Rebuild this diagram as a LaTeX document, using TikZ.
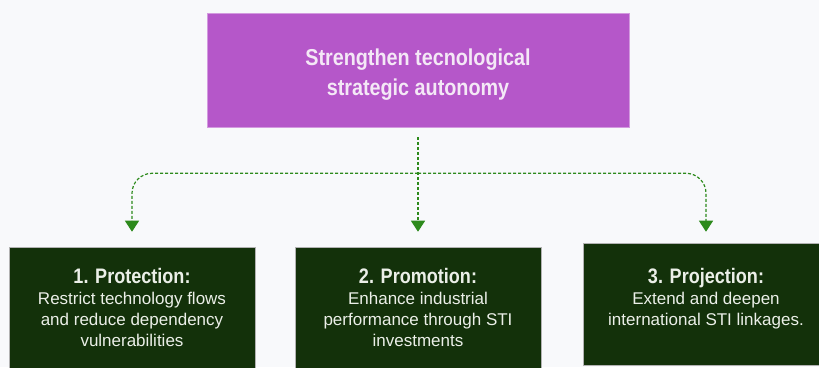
\documentclass[tikz,border=0pt]{standalone}
\usepackage{fontspec}
\setmainfont{Liberation Sans}
\newfontfamily\headfont{Liberation Sans Bold}[FakeStretch=0.86]
\usetikzlibrary{positioning,arrows.meta}
\definecolor{pagebg}{HTML}{F8F9FB}
\definecolor{goalfill}{HTML}{B557C9}
\definecolor{goaltext}{HTML}{F4E8F6}
\definecolor{pillarfill}{HTML}{13310A}
\definecolor{pillartext}{HTML}{EBEFE8}
\definecolor{linkgreen}{HTML}{2D8A1C}
\tikzset{
    >={Triangle[width=14pt,length=11pt]},
    goal/.style = {fill=goalfill, draw=goalfill!60!white, line width=0.6pt,
        minimum width=422pt, minimum height=114pt},
    goaltxt/.style = {text=goaltext, align=center, inner sep=0pt,
        font=\headfont\fontsize{23}{30}\selectfont},
    pillar/.style = {fill=pillarfill, draw=gray!60, line width=0.5pt,
        minimum width=246pt, minimum height=122pt},
    pillartxt/.style = {text=pillartext, align=center, inner sep=0pt,
        font=\fontsize{17}{21}\selectfont},
    link/.style = {->, linkgreen, line width=1.2pt, dash pattern=on 3pt off 2pt},
}
\begin{document}
\begin{tikzpicture}[x=1pt,y=1pt]
    \fill[pagebg] (0,0) rectangle (819,367);
    \useasboundingbox (0,0) rectangle (819,367);

    \node (goal) [goal] at (418,297) {};
    \node (goalt) [goaltxt, below=36pt of goal.north] {Strengthen tecnological\\strategic autonomy};

    \node (prot) [pillar] at (132,59) {};
    \node (prom) [pillar] at (418,59) {};
    \node (proj) [pillar] at (706,63) {};

    \node (protxt) [pillartxt, below=21pt of prot.north]
        {{\headfont\fontsize{21}{22}\selectfont 1. Protection:}\\Restrict technology flows\\and reduce dependency\\vulnerabilities};
    \node (promtxt) [pillartxt, below=21pt of prom.north]
        {{\headfont\fontsize{21}{22}\selectfont 2. Promotion:}\\Enhance industrial\\performance through STI\\investments};
    \node (projtxt) [pillartxt, below=25pt of proj.north]
        {{\headfont\fontsize{21}{22}\selectfont 3. Projection:}\\Extend and deepen\\international STI linkages.};

    \draw [link] ([yshift=-10pt]goal.south) -- ([yshift=15pt]prom.north);
    \draw [link, rounded corners=20pt] ([yshift=-46pt]goal.south) -| ([yshift=15pt]prot.north);
    \draw [link, rounded corners=20pt] ([yshift=-46pt]goal.south) -| ([yshift=11pt]proj.north);
\end{tikzpicture}
\end{document}
